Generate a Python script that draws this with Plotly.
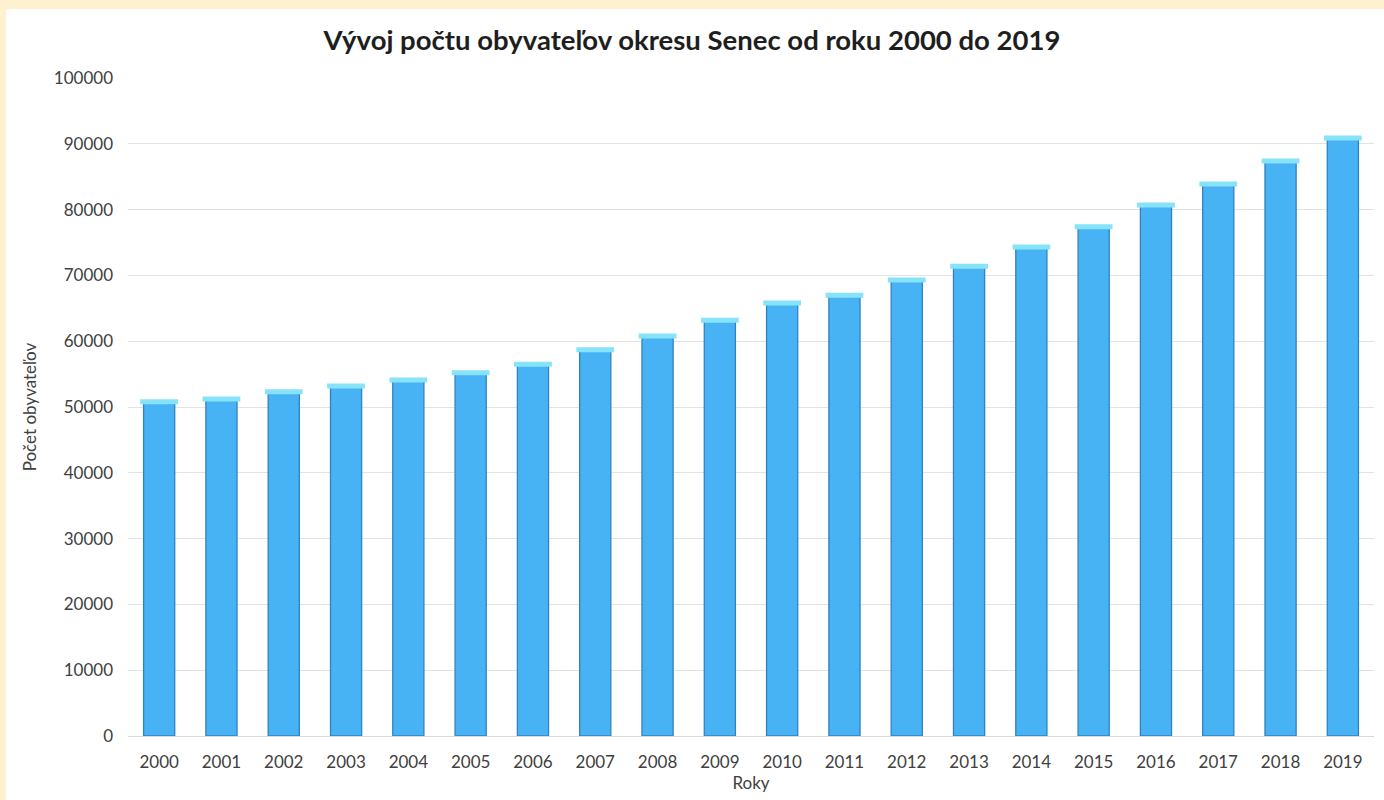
import plotly.graph_objects as go

years = [str(y) for y in range(2000, 2020)]
population = [50800, 51200, 52300, 53200, 54100, 55200, 56500, 58700, 60800, 63200,
              65800, 67000, 69300, 71400, 74300, 77400, 80700, 83900, 87400, 90900]
y_ticks = list(range(0, 100001, 10000))

title_text = "Vývoj počtu obyvateľov okresu Senec od roku 2000 do 2019"
y_title = "Počet obyvateľov"
x_title = "Roky"

W, H = 1384, 800
ml, mr, mt, mb = 128, 10, 78, 64
pw, ph = W - ml - mr, H - mt - mb

def px_x(p):
    return (p - ml) / pw

def px_y(p):
    return (H - mb - p) / ph

FONT = "Lato, Open Sans, sans-serif"

fig = go.Figure()
fig.add_trace(go.Bar(
    x=list(range(len(years))), y=population,
    width=0.5,
    marker=dict(color="#47B3F4", line=dict(color="#3083C0", width=1.3)),
    hoverinfo="y",
))
# light cap on top of each bar (cylinder look)
fig.add_trace(go.Scatter(
    x=list(range(len(years))), y=population,
    mode="markers",
    marker=dict(symbol="line-ew", size=27, line=dict(color="#86E3FA", width=5)),
    hoverinfo="skip",
))

fig.update_layout(
    width=W, height=H,
    margin=dict(l=ml, r=mr, t=mt, b=mb),
    paper_bgcolor="#FEF1CF",
    plot_bgcolor="rgba(0,0,0,0)",
    showlegend=False,
    title=dict(text=title_text, x=0.5, xanchor="center", y=1 - 40 / H, yanchor="middle",
               font=dict(family=FONT, size=27.5, color="#1E1E1E", weight="bold")),
    font=dict(family=FONT, size=17, color="#404040"),
    shapes=[dict(type="rect", xref="paper", yref="paper", layer="below",
                 x0=px_x(6), x1=px_x(W + 2), y0=px_y(H + 2), y1=px_y(9),
                 fillcolor="white", line=dict(width=0))],
    xaxis=dict(
        range=[-0.5, 19.5],
        tickmode="array", tickvals=list(range(len(years))), ticktext=years,
        showgrid=False, zeroline=False, showline=False, ticks="",
        ticklabelstandoff=14,
        tickfont=dict(size=17, color="#404040"),
        title=dict(text=x_title, font=dict(size=17, color="#404040"), standoff=4),
    ),
    yaxis=dict(
        range=[0, 100000],
        tickmode="array", tickvals=y_ticks, ticktext=[str(v) for v in y_ticks],
        showgrid=True, gridcolor="#E3E3E3", gridwidth=1.2,
        zeroline=True, zerolinecolor="#D9D9D9", zerolinewidth=1.2,
        showline=False, ticks="", ticklabelstandoff=14,
        tickfont=dict(size=17, color="#404040"),
        title=dict(text=y_title, font=dict(size=17, color="#404040"), standoff=12),
    ),
)

fig.write_html("out.html", config={"displayModeBar": False},
               post_script="document.body.style.margin='0';document.body.style.background='#FEF1CF';")
